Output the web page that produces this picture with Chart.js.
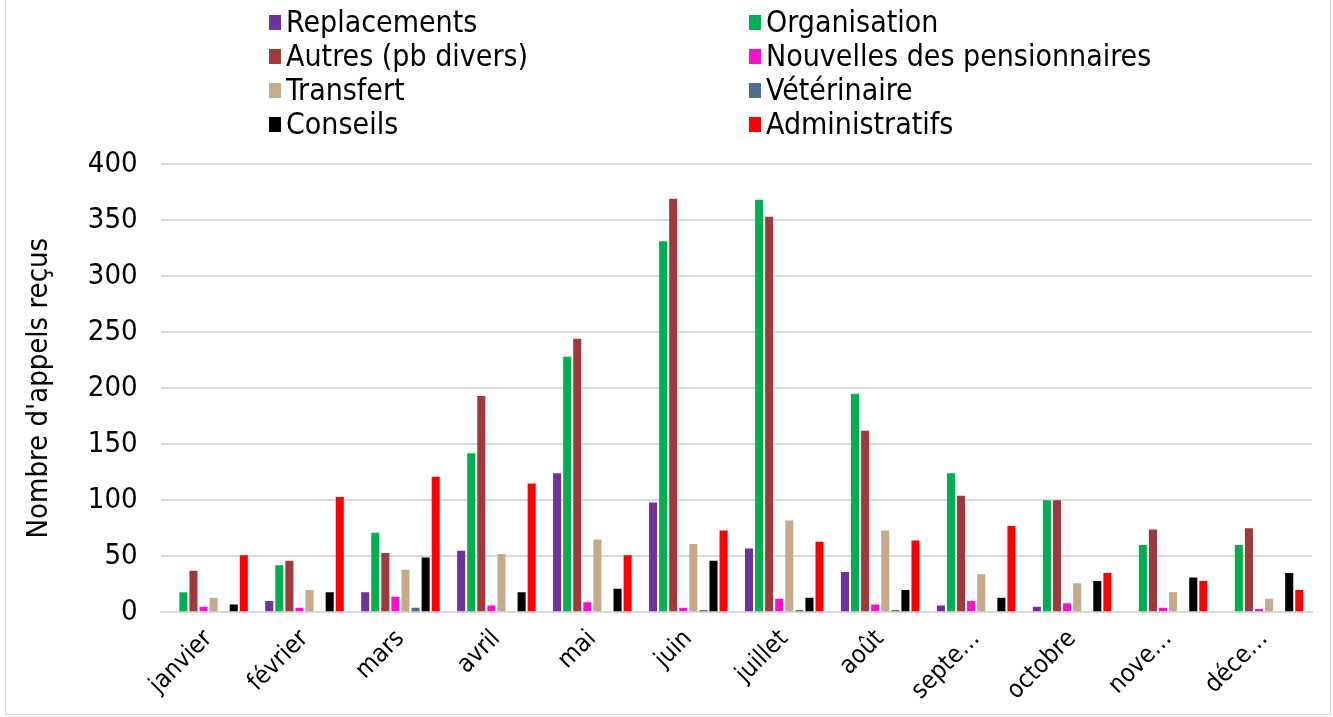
<!DOCTYPE html>
<html>
<head>
<meta charset="utf-8">
<script src="https://cdn.jsdelivr.net/npm/chart.js@4/dist/chart.umd.min.js"></script>
<style>
  html, body { margin: 0; padding: 0; background: #fff; }
  #wrap { position: absolute; left: 5px; top: 0; width: 1326px; height: 715px; border: 1px solid #d9d9d9; border-top: none; box-sizing: border-box; }
</style>
</head>
<body>
<div id="wrap"><canvas id="chartCanvas"></canvas></div>
<script>
const months = ['janvier', 'février', 'mars', 'avril', 'mai', 'juin', 'juillet', 'août', 'septe…', 'octobre', 'nove…', 'déce…'];

const replacements   = [1, 10, 18, 55, 124, 98, 57, 36, 6, 5, 1, 0];
const organisation   = [18, 42, 71, 142, 228, 331, 368, 195, 124, 100, 60, 60];
const autres         = [37, 46, 53, 193, 244, 369, 353, 162, 104, 100, 74, 75];
const nouvelles      = [5, 4, 14, 6, 9, 4, 12, 7, 10, 8, 4, 3];
const transfert      = [13, 20, 38, 52, 65, 61, 82, 73, 34, 26, 18, 12];
const veterinaire    = [0, 0, 4, 0, 0, 2, 2, 2, 1, 1, 0, 0];
const conseils       = [7, 18, 49, 18, 21, 46, 13, 20, 13, 28, 31, 35];
const administratifs = [51, 103, 121, 115, 51, 73, 63, 64, 77, 35, 28, 20];

const seriesNames = ['Replacements', 'Organisation', 'Autres (pb divers)', 'Nouvelles des pensionnaires',
  'Transfert', 'Vétérinaire', 'Conseils', 'Administratifs'];
const seriesValues = [replacements, organisation, autres, nouvelles, transfert, veterinaire, conseils, administratifs];
const seriesColors = ['#7030A0', '#00B050', '#9E3A38', '#FF10CC', '#C4AC8A', '#4F6D8F', '#000000', '#FF0000'];

const FONT = "'DejaVu Sans Condensed', 'DejaVu Sans', sans-serif";

// legend drawn in two aligned columns like the original
const twoColLegend = {
  id: 'twoColLegend',
  afterDraw(chart) {
    const ctx = chart.ctx;
    ctx.save();
    ctx.font = '30px ' + FONT;
    ctx.textBaseline = 'middle';
    chart.data.datasets.forEach((ds, i) => {
      const col = i % 2, row = Math.floor(i / 2);
      const x = col === 0 ? 263 : 743;
      const y = 23 + row * 34;
      ctx.fillStyle = ds.backgroundColor;
      ctx.fillRect(x, y - 8, 12, 15);
      ctx.fillStyle = '#000';
      ctx.fillText(ds.label, x + 17, y + 1);
    });
    ctx.restore();
  }
};

const ctx = document.getElementById('chartCanvas').getContext('2d');
new Chart(ctx, {
  type: 'bar',
  data: {
    labels: months,
    datasets: seriesNames.map((name, i) => ({
      label: name,
      data: seriesValues[i],
      backgroundColor: seriesColors[i],
      categoryPercentage: 0.84,
      barPercentage: 0.8
    }))
  },
  options: {
    responsive: true,
    maintainAspectRatio: false,
    animation: false,
    layout: { padding: { top: 164, right: 18, left: 16, bottom: 4 } },
    plugins: { legend: { display: false }, tooltip: { enabled: false } },
    scales: {
      x: {
        grid: { display: false },
        border: { display: true, color: '#d9d9d9', width: 2 },
        ticks: { color: '#000', font: { family: FONT, size: 25 }, maxRotation: 45, minRotation: 45, padding: 4 }
      },
      y: {
        min: 0, max: 400,
        grid: { color: '#d9d9d9', lineWidth: 2, drawTicks: false },
        border: { display: false },
        ticks: { stepSize: 50, color: '#000', font: { family: FONT, size: 29 }, padding: 23 },
        title: { display: true, text: "Nombre d'appels reçus", color: '#000', font: { family: FONT, size: 29 }, padding: { top: 0, bottom: 8 } }
      }
    }
  },
  plugins: [twoColLegend]
});
</script>
</body>
</html>
